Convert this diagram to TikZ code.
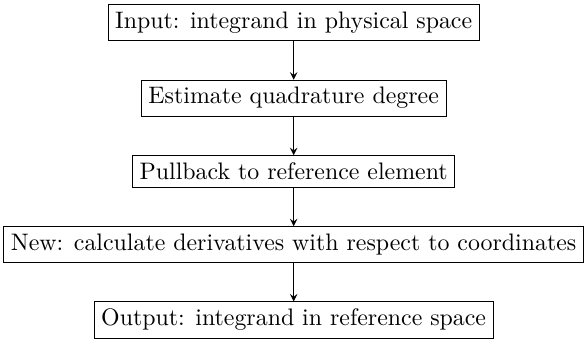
\documentclass[tikz,border=0pt]{standalone}
\usepackage{tikz}
\usetikzlibrary{arrows,arrows.meta,positioning}

\begin{document}
\begin{tikzpicture}[ > = stealth, stage/.style = {draw, rectangle, inner sep=3pt}, flow/.style = {->}, node distance=5.7mm]

    % stages
    \node[stage] (input) {Input: integrand in physical space};
    \node[stage, below=of input] (degree) {Estimate quadrature degree};
    \node[stage, below=of degree] (pullback) {Pullback to reference element};
    \node[stage, below=of pullback] (deriv) {New: calculate derivatives with respect to coordinates};
    \node[stage, below=of deriv] (output) {Output: integrand in reference space};

    % arrows
    \draw[flow] (input) -- (degree);
    \draw[flow] (degree) -- (pullback);
    \draw[flow] (pullback) -- (deriv);
    \draw[flow] (deriv) -- (output);

    % margins
    \path ([xshift=-1.4pt,yshift=1.8pt]input.north -| deriv.west) rectangle ([yshift=-0.8pt]output.south -| deriv.east);

    \end{tikzpicture}
\end{document}
